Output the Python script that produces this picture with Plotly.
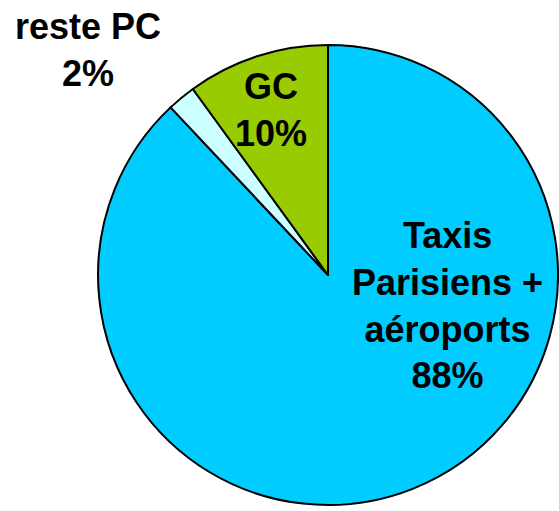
import plotly.graph_objects as go

labels = ["Taxis<br>Parisiens +<br>aéroports", "reste PC", "GC"]
values = [88, 2, 10]
colors = ["#00CCFF", "#CCFFFF", "#99CC00"]

W, H = 559, 511

fig = go.Figure()
fig.add_trace(go.Pie(
    labels=labels, values=values, sort=False, direction="clockwise", rotation=0,
    marker=dict(colors=colors, line=dict(color="black", width=2)),
    textinfo="none", hoverinfo="label+percent", showlegend=False,
    domain=dict(x=[0.1754, 0.9982], y=[0.0117, 0.9119]),
))

label_pos = [(0.80, 0.403), (0.157, 0.902), (0.485, 0.784)]
for lab, v, (x, y) in zip(labels, values, label_pos):
    fig.add_annotation(
        x=x, y=y, xref="paper", yref="paper", xanchor="center", yanchor="middle",
        text=f"<b>{lab}<br>{v}%</b>", showarrow=False, align="center",
        font=dict(family="Liberation Sans, Arial, sans-serif", size=36, color="black"),
    )

fig.update_layout(
    width=W, height=H, margin=dict(l=0, r=0, t=0, b=0),
    paper_bgcolor="white", plot_bgcolor="white",
)
fig.write_html(
    "out.html",
    config={"displayModeBar": False},
    post_script="document.body.style.margin='0';document.body.style.overflow='hidden';",
)
